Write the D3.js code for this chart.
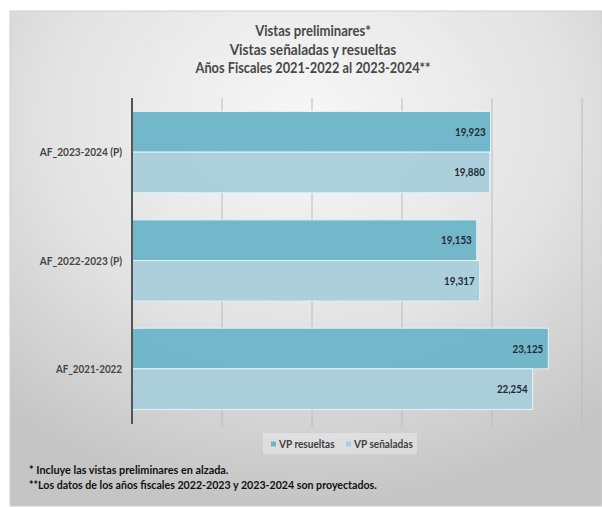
<!DOCTYPE html>
<html>
<head>
<meta charset="utf-8">
<script src="https://cdn.jsdelivr.net/npm/d3@7"></script>
<style>
html,body{margin:0;padding:0;background:#fff;}
svg{display:block;}
text{font-family:Lato,"Open Sans","Noto Sans",sans-serif;}
</style>
</head>
<body>
<svg id="chart" width="602" height="507"></svg>
<script>
const categories = ["AF_2023-2024 (P)", "AF_2022-2023 (P)", "AF_2021-2022"];
const seriesNames = ["VP resueltas", "VP señaladas"];
const resueltas = [19923, 19153, 23125];
const senaladas = [19880, 19317, 22254];
const xTicks = [0, 5000, 10000, 15000, 20000, 25000];
const titleLines = ["Vistas preliminares*", "Vistas señaladas y resueltas", "Años Fiscales 2021-2022 al 2023-2024**"];
const footnotes = ["* Incluye las vistas preliminares en alzada.", "**Los datos de los años fiscales 2022-2023 y 2023-2024 son proyectados."];
const colors = ["#6db4c8", "#a9cfda"];

// approximate rendered width of Calibri-like text (per-char em widths)
function approxWidth(str, size) {
  let w = 0;
  for (const ch of str) {
    if (/[0-9]/.test(ch)) w += 0.507;
    else if (/[iljI]/.test(ch)) w += 0.24;
    else if (/[ ,.*]/.test(ch)) w += 0.25;
    else if (/[_]/.test(ch)) w += 0.5;
    else if (/[A-Z]/.test(ch)) w += 0.56;
    else if (/[mw]/.test(ch)) w += 0.76;
    else if (/[rtf\-()]/.test(ch)) w += 0.33;
    else w += 0.48;
  }
  return w * size;
}
function fit(sel, size) {
  sel.each(function(d) {
    const t = d3.select(this);
    t.attr("textLength", approxWidth(t.text(), size)).attr("lengthAdjust", "spacingAndGlyphs");
  });
}

const svg = d3.select("#chart");
const defs = svg.append("defs");
const grad = defs.append("radialGradient").attr("id", "bg")
  .attr("cx", "50%").attr("cy", "22%").attr("r", "78%");
grad.append("stop").attr("offset", "0%").attr("stop-color", "#f7f7f7");
grad.append("stop").attr("offset", "55%").attr("stop-color", "#e3e3e3");
grad.append("stop").attr("offset", "100%").attr("stop-color", "#c5c5c5");

svg.append("rect").attr("x", 10).attr("y", 11).attr("width", 592).attr("height", 495)
  .attr("fill", "url(#bg)").attr("stroke", "#cfcfcf").attr("stroke-width", 1);

const x = d3.scaleLinear().domain([0, 25000]).range([132, 582]);
const y = d3.scaleBand().domain(categories).range([98, 423]).paddingInner(0.25).paddingOuter(0.125);
const y1 = d3.scaleBand().domain(seriesNames).range([0, y.bandwidth()]);

// gridlines
svg.append("g").selectAll("line").data(xTicks.slice(1)).join("line")
  .attr("x1", d => x(d)).attr("x2", d => x(d))
  .attr("y1", 98).attr("y2", 427)
  .attr("stroke", "#bcbcbc").attr("stroke-width", 1);

const rows = categories.map((c, i) => ({cat: c, vals: [resueltas[i], senaladas[i]]}));

const g = svg.append("g").selectAll("g").data(rows).join("g")
  .attr("transform", d => `translate(0,${y(d.cat)})`);

g.selectAll("rect").data(d => d.vals.map((v, j) => ({v, s: seriesNames[j], j}))).join("rect")
  .attr("x", x(0))
  .attr("y", d => y1(d.s))
  .attr("width", d => x(d.v) - x(0))
  .attr("height", y1.bandwidth())
  .attr("fill", d => colors[d.j])
  .attr("fill-opacity", 0.95)
  .attr("stroke", "#e6f3f7").attr("stroke-width", 1);

g.selectAll("text.val").data(d => d.vals.map((v, j) => ({v, s: seriesNames[j]}))).join("text")
  .attr("class", "val")
  .attr("x", d => x(d.v) - 5)
  .attr("y", d => y1(d.s) + y1.bandwidth() / 2 + 4)
  .attr("text-anchor", "end")
  .attr("font-size", 11).attr("font-weight", "bold").attr("fill", "#1e2b36")
  .text(d => d3.format(",")(d.v))
  .call(fit, 11);

// category labels
svg.append("g").selectAll("text").data(categories).join("text")
  .attr("x", 122).attr("y", d => y(d) + y.bandwidth() / 2 + 4)
  .attr("text-anchor", "end").attr("font-size", 11).attr("font-weight", "bold")
  .attr("fill", "#454545").text(d => d)
  .call(fit, 11);

// axis line
svg.append("line").attr("x1", x(0)).attr("x2", x(0)).attr("y1", 98).attr("y2", 424)
  .attr("stroke", "#555").attr("stroke-width", 2);

// title
svg.append("g").selectAll("text").data(titleLines).join("text")
  .attr("x", 313).attr("y", (d, i) => 36 + i * 18.5)
  .attr("text-anchor", "middle").attr("font-size", 15).attr("font-weight", "bold")
  .attr("fill", "#484848").text(d => d)
  .call(fit, 14.3);

// legend
const lg = svg.append("g");
lg.append("rect").attr("x", 263).attr("y", 433).attr("width", 154).attr("height", 21)
  .attr("fill", "#ffffff").attr("fill-opacity", 0.3);
const legX = [271, 346];
seriesNames.forEach((s, i) => {
  lg.append("rect").attr("x", legX[i]).attr("y", 441.5).attr("width", 5).attr("height", 5).attr("fill", colors[i]);
  lg.append("text").attr("x", legX[i] + 8).attr("y", 447.5).attr("font-size", 10.5)
    .attr("font-weight", "bold").attr("fill", "#404040").text(s)
    .call(fit, 10.8);
});

// footnotes
svg.append("g").selectAll("text").data(footnotes).join("text")
  .attr("x", 29).attr("y", (d, i) => 474 + i * 15)
  .attr("font-size", 11.5).attr("font-weight", "bold").attr("fill", "#111").text(d => d)
  .call(fit, 11.6);
</script>
</body>
</html>
